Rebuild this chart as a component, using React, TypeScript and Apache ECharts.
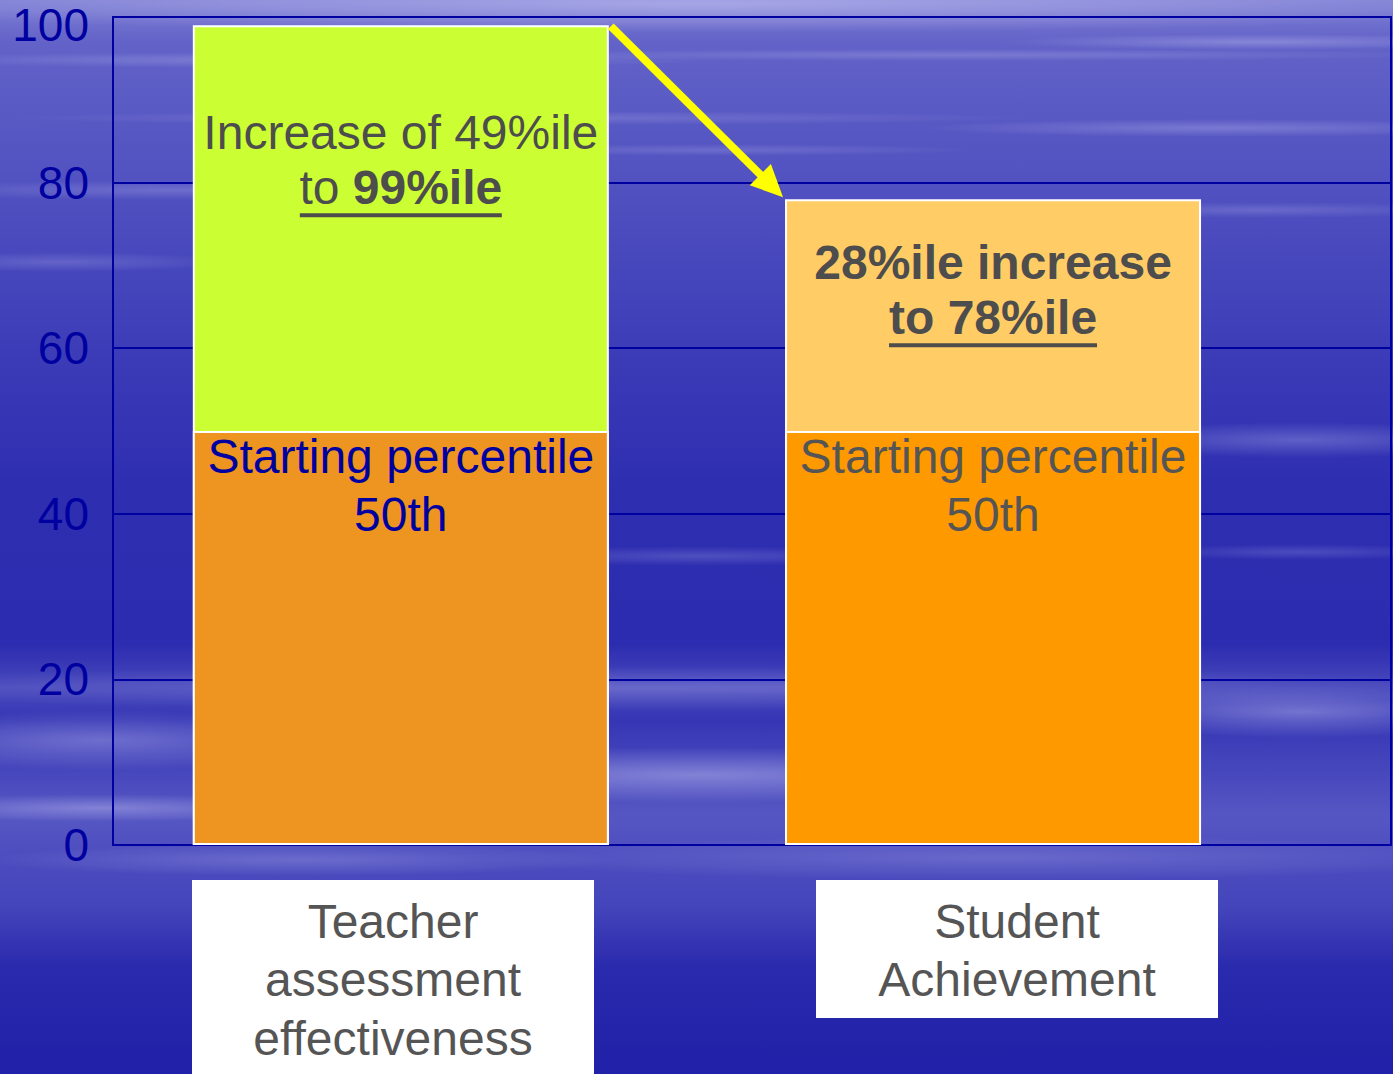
import React, { useEffect, useRef } from "react";
import * as echarts from "echarts";

// ---- data ----
const categories = ["Teacher assessment effectiveness", "Student Achievement"];
const categoryLines = [["Teacher", "assessment", "effectiveness"], ["Student", "Achievement"]];
const barPositions = [0, 1];
const startingPercentile = [50, 50];
const increase = [49, 28];
const yTickMin = 0;
const yTickMax = 100;
const yTickStep = 20;

// ---- styles ----
const FONT = "'Liberation Sans', Arial, sans-serif";
const AXIS_BLUE = "#0000A0";
const startColors = ["#EE9420", "#FF9900"];
const increaseColors = ["#CCFF33", "#FFCC66"];
const startLabelColors = ["#0000A0", "#555555"];
const TEXT_GRAY = "#4d4d4d";

// decorative water streaks: cx, cy, rx, ry, opacity
const streaks: number[][] = [
  [700, 4, 900, 28, 0.55],
  [300, 60, 420, 8, 0.3],
  [950, 55, 500, 6, 0.25],
  [1260, 42, 260, 8, 0.35],
  [520, 118, 520, 7, 0.22],
  [1220, 128, 300, 9, 0.3],
  [180, 190, 300, 10, 0.25],
  [720, 150, 260, 6, 0.2],
  [1260, 210, 220, 8, 0.22],
  [60, 262, 170, 10, 0.22],
  [1300, 440, 220, 18, 0.3],
  [700, 556, 220, 10, 0.22],
  [1300, 552, 160, 8, 0.2],
  [650, 688, 900, 22, 0.25],
  [100, 740, 260, 30, 0.35],
  [700, 775, 420, 28, 0.45],
  [1300, 712, 220, 26, 0.4],
  [100, 808, 220, 14, 0.4],
  [1000, 858, 520, 22, 0.22],
  [300, 860, 320, 16, 0.25],
];

export default function App() {
  const ref = useRef<HTMLDivElement>(null);

  useEffect(() => {
    if (!ref.current) return;
    const chart = echarts.init(ref.current, null, { renderer: "svg" });

    const endLabels = barPositions.map((_, i) => {
      const total = startingPercentile[i] + increase[i];
      const common = {
        show: true,
        fontSize: 48,
        lineHeight: 58,
        fontFamily: FONT,
        color: TEXT_GRAY,
      };
      if (i === 0) {
        return {
          ...common,
          position: "insideTop",
          distance: 78,
          formatter: () => `Increase of ${increase[i]}%ile\n{u|to }{ub|${total}%ile}\n{ul| }`,
          rich: {
            u: { fontSize: 48, lineHeight: 52, color: TEXT_GRAY, fontFamily: FONT },
            ub: { fontSize: 48, lineHeight: 52, color: TEXT_GRAY, fontFamily: FONT, fontWeight: "bold" },
            ul: { width: 202, height: 4, lineHeight: 4, fontSize: 4, backgroundColor: TEXT_GRAY },
          },
        };
      }
      return {
        ...common,
        position: "insideTop",
        distance: 34,
        formatter: () => `{b|${increase[i]}%ile increase}\n{ub|to ${total}%ile}\n{ul| }`,
        rich: {
          b: { fontSize: 48, lineHeight: 58, color: TEXT_GRAY, fontFamily: FONT, fontWeight: "bold" },
          ub: { fontSize: 48, lineHeight: 52, color: TEXT_GRAY, fontFamily: FONT, fontWeight: "bold" },
          ul: { width: 208, height: 4, lineHeight: 4, fontSize: 4, backgroundColor: TEXT_GRAY },
        },
      };
    });

    const option: any = {
      animation: false,
      grid: {
        left: 113,
        right: 2,
        top: 17,
        bottom: 229,
        show: true,
        borderColor: AXIS_BLUE,
        borderWidth: 2,
        backgroundColor: "transparent",
      },
      xAxis: { type: "value", min: -0.486, max: 1.672, show: false },
      yAxis: {
        type: "value",
        min: yTickMin,
        max: yTickMax,
        interval: yTickStep,
        axisLine: { show: true, onZero: false, lineStyle: { color: AXIS_BLUE, width: 2 } },
        axisTick: { show: false },
        splitLine: { show: true, lineStyle: { color: AXIS_BLUE, width: 2 } },
        axisLabel: {
          fontSize: 46,
          color: AXIS_BLUE,
          fontFamily: FONT,
          margin: 24,
          formatter: (v: number) => (v === yTickMax ? `{top|${v}}` : `${v}`),
          rich: {
            top: { fontSize: 46, color: AXIS_BLUE, fontFamily: FONT, padding: [16, 0, 0, 0] },
          },
        },
      },
      series: [
        {
          // top of each bar: the percentile reached after the increase
          name: "Increase",
          type: "bar",
          barWidth: 416,
          barGap: "-100%",
          z: 3,
          data: barPositions.map((x, i) => ({
            value: [x, startingPercentile[i] + increase[i]],
            itemStyle: { color: increaseColors[i], borderColor: "#ffffff", borderWidth: 2 },
            label: endLabels[i],
          })),
        },
        {
          name: "Starting percentile",
          type: "bar",
          barWidth: 416,
          barGap: "-100%",
          z: 4,
          data: barPositions.map((x, i) => ({
            value: [x, startingPercentile[i]],
            itemStyle: { color: startColors[i], borderColor: "#ffffff", borderWidth: 2 },
            label: {
              show: true,
              position: "insideTop",
              distance: -4,
              fontSize: 48,
              lineHeight: 58,
              fontFamily: FONT,
              color: startLabelColors[i],
              formatter: () => `Starting percentile\n${startingPercentile[i]}th`,
            },
          })),
        },
      ],
    };

    chart.setOption(option);

    const graphics: any[] = [];
    graphics.push({
      type: "rect",
      z: -20,
      silent: true,
      shape: { x: 0, y: 0, width: 1393, height: 1074 },
      style: {
        fill: new echarts.graphic.LinearGradient(0, 0, 0, 1, [
          { offset: 0, color: "#7e7ed4" },
          { offset: 0.04, color: "#6262c8" },
          { offset: 0.18, color: "#5050c0" },
          { offset: 0.33, color: "#3c3cb8" },
          { offset: 0.45, color: "#2e2eb1" },
          { offset: 0.6, color: "#2c2cb0" },
          { offset: 0.64, color: "#4848bc" },
          { offset: 0.67, color: "#3636b5" },
          { offset: 0.76, color: "#5656c3" },
          { offset: 0.8, color: "#4c4cbf" },
          { offset: 0.84, color: "#4646bc" },
          { offset: 0.9, color: "#2a2aae" },
          { offset: 1, color: "#2020a8" },
        ]),
      },
    });
    streaks.forEach(([cx, cy, rx, ry, op]) => {
      graphics.push({
        type: "ellipse",
        z: -19,
        silent: true,
        shape: { cx, cy, rx, ry },
        style: {
          fill: new echarts.graphic.RadialGradient(0.5, 0.5, 0.5, [
            { offset: 0, color: `rgba(200,200,245,${op})` },
            { offset: 1, color: "rgba(200,200,245,0)" },
          ]),
        },
      });
    });

    // arrow from top of first bar to top of second bar
    const half = 208;
    const pA = chart.convertToPixel({ gridIndex: 0 }, [barPositions[0], startingPercentile[0] + increase[0]]) as number[];
    const pB = chart.convertToPixel({ gridIndex: 0 }, [barPositions[1], startingPercentile[1] + increase[1]]) as number[];
    const sx = pA[0] + half + 2;
    const sy = pA[1] + 1;
    const ex = pB[0] - half - 2;
    const ey = pB[1] - 2;
    const dx = ex - sx;
    const dy = ey - sy;
    const len = Math.sqrt(dx * dx + dy * dy);
    const ux = dx / len;
    const uy = dy / len;
    const headLen = 32;
    const headHalf = 15;
    const bx = ex - ux * headLen;
    const by = ey - uy * headLen;
    const nx = -uy;
    const ny = ux;
    graphics.push({
      type: "line",
      z: 10,
      shape: { x1: sx, y1: sy, x2: bx + ux * 2, y2: by + uy * 2 },
      style: { stroke: "#FFFF00", lineWidth: 8 },
    });
    graphics.push({
      type: "polygon",
      z: 10,
      shape: {
        points: [
          [ex, ey],
          [bx + nx * headHalf, by + ny * headHalf],
          [bx - nx * headHalf, by - ny * headHalf],
        ],
      },
      style: { fill: "#FFFF00" },
    });

    // category label boxes
    const boxes = [
      { x: 192, y: 880, w: 402, h: 200 },
      { x: 816, y: 880, w: 402, h: 138 },
    ];
    categories.forEach((name, i) => {
      const b = boxes[i];
      graphics.push({
        type: "rect",
        z: 5,
        shape: { x: b.x, y: b.y, width: b.w, height: b.h },
        style: { fill: "#ffffff" },
      });
      graphics.push({
        type: "text",
        z: 6,
        x: b.x + b.w / 2,
        y: b.y + 12,
        style: {
          text: categoryLines[i].join("\n"),
          align: "center",
          verticalAlign: "top",
          fontSize: 48,
          lineHeight: 58.5,
          fontFamily: FONT,
          fill: "#555555",
        },
      });
    });

    chart.setOption({ graphic: graphics });

    return () => chart.dispose();
  }, []);

  return (
    <div
      ref={ref}
      style={{ position: "fixed", left: 0, top: 0, width: 1393, height: 1074, background: "#3a3ab6" }}
    />
  );
}
